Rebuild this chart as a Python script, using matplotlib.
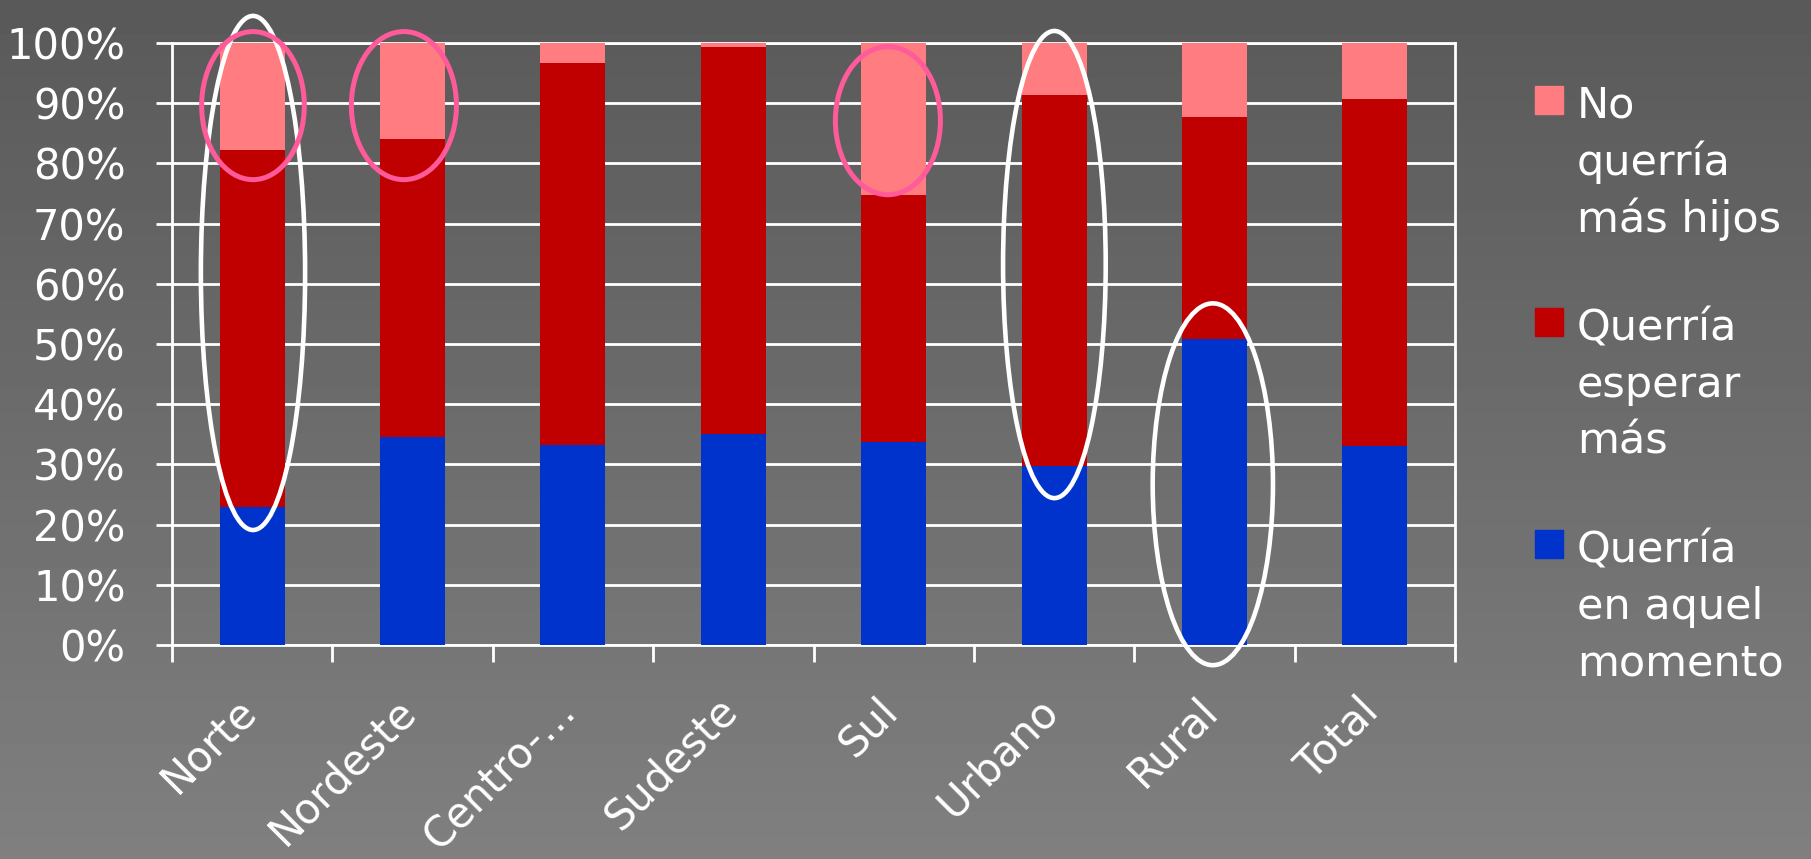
import numpy as np
import matplotlib
matplotlib.use("Agg")
import matplotlib.pyplot as plt
from matplotlib.patches import Ellipse, Rectangle
from matplotlib.transforms import ScaledTranslation

plt.rcParams['font.family'] = ['DejaVu Sans']

# shares (%) per region / area
categories = ["Norte", "Nordeste", "Centro-…", "Sudeste", "Sul", "Urbano", "Rural", "Total"]
querria_ahora = [23.0, 34.5, 33.3, 35.0, 33.7, 29.8, 50.8, 33.1]
querria_esperar = [59.3, 49.5, 63.4, 64.4, 41.1, 61.6, 36.9, 57.6]
no_querria = [17.7, 16.0, 3.3, 0.6, 25.2, 8.6, 12.3, 9.3]

series_labels = ["No\nquerría\nmás hijos", "Querría\nesperar\nmás", "Querría\nen aquel\nmomento"]
colors = {"ahora": "#0033CC", "esperar": "#C00000", "no": "#FF7C80"}

W, H = 1811, 859
fig = plt.figure(figsize=(W / 100, H / 100), dpi=100)

# grey vertical gradient behind everything
bg = fig.add_axes([0, 0, 1, 1], zorder=-10)
grad = np.linspace(0.35, 0.50, 256).reshape(-1, 1)
bg.imshow(grad, aspect="auto", cmap="gray", vmin=0, vmax=1, extent=[0, 1, 0, 1])
bg.axis("off")

ax = fig.add_axes([172 / W, 1 - 645 / H, (1455 - 172) / W, (645 - 43) / H])
ax.set_facecolor("none")
ax.set_axisbelow(True)

x = np.arange(len(categories))
bw = 0.405
a = np.array(querria_ahora)
e = np.array(querria_esperar)
n = np.array(no_querria)
ax.bar(x, a, bw, color=colors["ahora"], zorder=3)
ax.bar(x, e, bw, bottom=a, color=colors["esperar"], zorder=3)
ax.bar(x, n, bw, bottom=a + e, color=colors["no"], zorder=3)

ax.set_xlim(-0.5, len(categories) - 0.5)
ax.set_ylim(0, 100)

lw_axis = 2.0
ax.set_yticks(np.arange(0, 101, 10))
ax.set_yticklabels([f"{v}%" for v in range(0, 101, 10)])
ax.yaxis.grid(True, color="white", linewidth=lw_axis)
ax.tick_params(axis="y", colors="white", length=11.5, width=lw_axis, pad=22, labelsize=30)

ax.set_xticks(np.arange(-0.5, len(categories), 1.0))
ax.set_xticklabels([])
ax.set_xticks(x, minor=True)
ax.set_xticklabels(categories, minor=True, rotation=45, ha="right", va="top",
                   fontsize=30, color="white")
ax.tick_params(axis="x", which="major", colors="white", length=12, width=lw_axis)
ax.tick_params(axis="x", which="minor", length=0, pad=32)
for lab in ax.get_xticklabels(minor=True):
    lab.set_transform(lab.get_transform() + ScaledTranslation(0.12, 0, fig.dpi_scale_trans))

for side in ["left", "right", "bottom", "top"]:
    ax.spines[side].set_color("white")
    ax.spines[side].set_linewidth(lw_axis)

# highlight rings
rings = [
    (0.005, 61.8, 0.65, 85.4, "white", 3.3),
    (5.002, 63.2, 0.64, 77.6, "white", 3.3),
    (5.99, 26.7, 0.75, 60.1, "white", 3.3),
    (0.005, 89.6, 0.64, 24.6, "#FF5A9A", 3.6),
    (0.946, 89.6, 0.655, 24.6, "#FF5A9A", 3.6),
    (3.964, 87.1, 0.655, 24.6, "#FF5A9A", 3.6),
]
for cx, cy, w, h, c, lw in rings:
    ax.add_patch(Ellipse((cx, cy), w, h, fill=False, edgecolor=c, linewidth=lw,
                         clip_on=False, zorder=5))

# legend drawn by hand: square on the first line of each entry
leg_colors = [colors["no"], colors["esperar"], colors["ahora"]]
for i, (lab, c) in enumerate(zip(series_labels, leg_colors)):
    base = 118 + 222 * i
    fig.patches.append(Rectangle((1535 / W, 1 - (base - 4) / H), 28 / W, 28 / H,
                                 transform=fig.transFigure, color=c))
    for j, line in enumerate(lab.split("\n")):
        fig.text(1577 / W, 1 - (base + 57 * j) / H, line, color="white",
                 fontsize=31, ha="left", va="baseline")

fig.savefig("out.png", dpi=100)
